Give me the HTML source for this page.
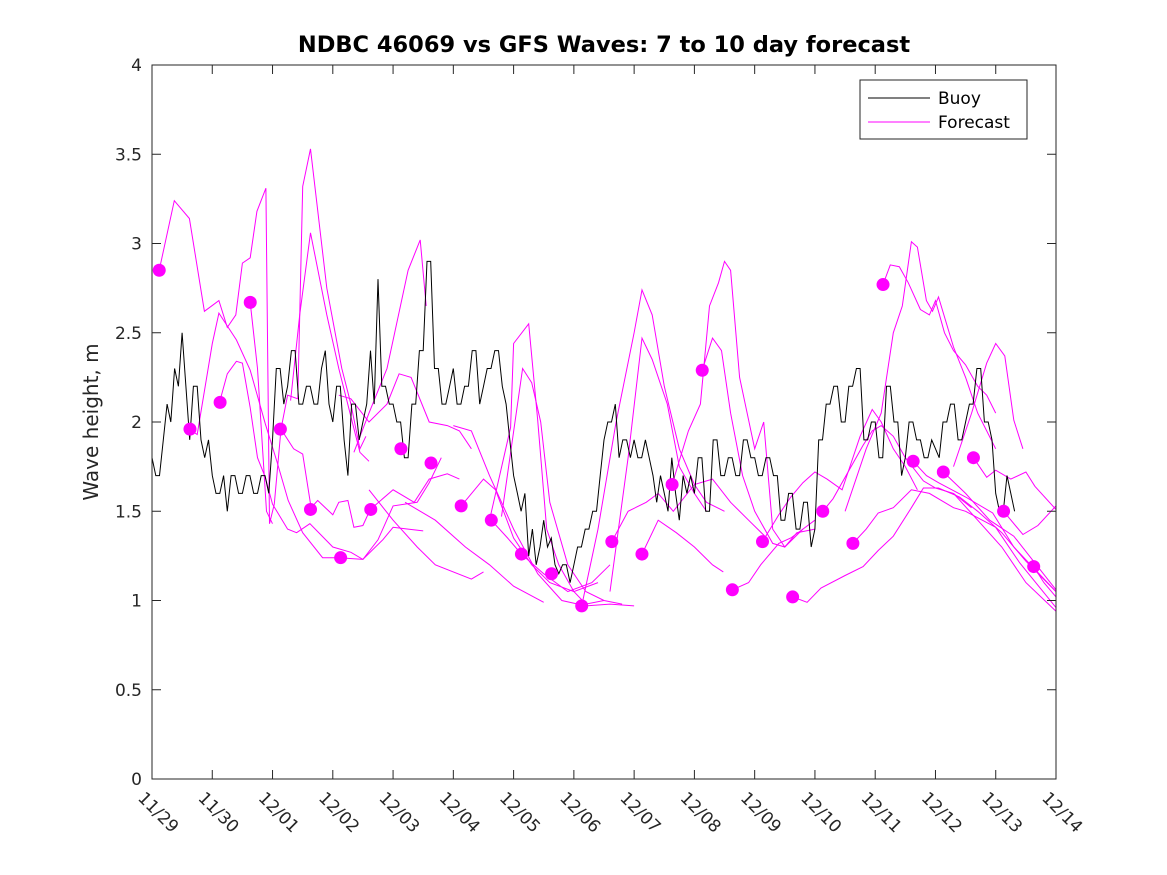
<!DOCTYPE html>
<html><head><meta charset="utf-8"><style>
html,body{margin:0;padding:0;background:#fff;}
svg{display:block;font-family:"DejaVu Sans","Liberation Sans",sans-serif;}
</style></head><body>
<svg id="chart" width="1167" height="875" viewBox="0 0 1167 875" xmlns="http://www.w3.org/2000/svg">
<rect x="0" y="0" width="1167" height="875" fill="#fff"/>
<text x="604" y="52" text-anchor="middle" font-size="22.5" font-weight="bold" fill="#000">NDBC 46069 vs GFS Waves: 7 to 10 day forecast</text>
<text transform="translate(98,422) rotate(-90)" text-anchor="middle" font-size="20" fill="#262626">Wave height, m</text>
<g id="plot"></g>
<g id="axes"></g>
<g>
<rect x="860" y="80" width="167" height="59" fill="#fff" stroke="#262626" stroke-width="1"/>
<line x1="868" y1="98" x2="930" y2="98" stroke="#000" stroke-width="1"/>
<text x="938" y="104" font-size="17" fill="#000">Buoy</text>
<line x1="868" y1="122" x2="930" y2="122" stroke="#ff00ff" stroke-width="1"/>
<text x="938" y="128" font-size="17" fill="#000">Forecast</text>
</g>
</svg>
<script>
const xTickLabels = ["11/29","11/30","12/01","12/02","12/03","12/04","12/05","12/06","12/07","12/08","12/09","12/10","12/11","12/12","12/13","12/14"];
const yTicks = [0,0.5,1,1.5,2,2.5,3,3.5,4];
const yTickLabels = ["0","0.5","1","1.5","2","2.5","3","3.5","4"];
const buoyStep = 0.0625;
const buoyValues = [
1.8,1.7,1.7,1.9,2.1,2.0,2.3,2.2,2.5,2.2,1.9,2.2,2.2,1.9,1.8,1.9,
1.7,1.6,1.6,1.7,1.5,1.7,1.7,1.6,1.6,1.7,1.7,1.6,1.6,1.7,1.7,1.6,
1.9,2.3,2.3,2.1,2.2,2.4,2.4,2.1,2.1,2.2,2.2,2.1,2.1,2.3,2.4,2.1,
2.0,2.2,2.2,1.9,1.7,2.1,2.1,1.9,2.0,2.1,2.4,2.1,2.8,2.2,2.2,2.1,
2.1,2.0,2.0,1.8,1.8,2.1,2.1,2.4,2.4,2.9,2.9,2.3,2.3,2.1,2.1,2.2,
2.3,2.1,2.1,2.2,2.2,2.4,2.4,2.1,2.2,2.3,2.3,2.4,2.4,2.2,2.1,1.9,
1.7,1.6,1.5,1.6,1.25,1.4,1.2,1.3,1.45,1.3,1.35,1.2,1.15,1.2,1.2,1.1,
1.2,1.3,1.3,1.4,1.4,1.5,1.5,1.7,1.9,2.0,2.0,2.1,1.8,1.9,1.9,1.8,
1.9,1.8,1.8,1.9,1.8,1.7,1.55,1.7,1.6,1.5,1.8,1.6,1.45,1.7,1.6,1.7,
1.6,1.8,1.8,1.5,1.5,1.9,1.9,1.7,1.7,1.8,1.8,1.7,1.7,1.9,1.9,1.8,
1.8,1.7,1.7,1.8,1.8,1.7,1.7,1.45,1.45,1.6,1.6,1.4,1.4,1.55,1.55,1.3,
1.4,1.9,1.9,2.1,2.1,2.2,2.2,2.0,2.0,2.2,2.2,2.3,2.3,1.9,1.9,2.0,
2.0,1.8,1.8,2.2,2.2,2.0,2.0,1.7,1.8,2.0,2.0,1.9,1.9,1.8,1.8,1.9,
1.85,1.8,2.0,2.0,2.1,2.1,1.9,1.9,2.0,2.1,2.1,2.3,2.3,2.0,2.0,1.9,
1.6,1.5,1.5,1.7,1.6,1.5];
const dotDays = [0.12,0.63,1.13,1.63,2.13,2.63,3.13,3.63,4.13,4.63,5.13,5.63,6.13,6.63,7.13,7.63,8.13,8.63,9.13,9.63,10.13,10.63,11.13,11.63,12.13,12.63,13.13,13.63,14.13,14.63];
const dotValues = [2.85,1.96,2.11,2.67,1.96,1.51,1.24,1.51,1.85,1.77,1.53,1.45,1.26,1.15,0.97,1.33,1.26,1.65,2.29,1.06,1.33,1.02,1.50,1.32,2.77,1.78,1.72,1.80,1.50,1.19];
const forecasts = [
[[0.12,2.85],[0.37,3.24],[0.62,3.14],[0.87,2.62],[1.11,2.68],[1.25,2.53],[1.39,2.6],[1.5,2.89],[1.63,2.92],[1.74,3.18],[1.89,3.31],[1.95,1.43],[2.03,1.54],[2.14,1.96],[2.35,1.85],[2.5,1.82],[2.64,1.52],[2.75,1.56],[3.0,1.48],[3.1,1.55],[3.25,1.56],[3.35,1.41],[3.5,1.42],[3.62,1.51],[4.0,1.62],[4.35,1.55],[4.6,1.68],[4.9,1.71],[5.1,1.68]],
[[0.62,1.96],[0.75,1.93],[1.0,2.44],[1.11,2.61],[1.4,2.46],[1.63,2.29],[1.88,1.99],[2.08,1.77],[2.26,1.56],[2.5,1.38],[2.83,1.24],[3.1,1.24],[3.5,1.23],[3.83,1.34],[4.0,1.41],[4.25,1.40],[4.5,1.39]],
[[1.12,2.11],[1.25,2.27],[1.4,2.34],[1.5,2.33],[1.63,2.08],[1.75,1.8],[1.88,1.69],[2.0,1.54],[2.25,1.40],[2.4,1.38],[2.62,1.43],[3.0,1.30],[3.3,1.27],[3.5,1.23],[3.75,1.34],[4.0,1.53],[4.4,1.55],[4.6,1.66],[4.8,1.80]],
[[1.63,2.67],[1.75,2.3],[1.9,1.5],[2.0,1.43]],
[[2.14,1.96],[2.25,2.15],[2.42,2.13],[2.5,3.32],[2.63,3.53],[2.9,2.75],[3.15,2.3],[3.3,2.1],[3.45,1.85],[3.55,1.92]],
[[2.3,2.12],[2.45,2.6],[2.63,3.06],[2.9,2.6],[3.1,2.3],[3.3,2.03],[3.45,1.83],[3.6,1.78]],
[[3.1,2.15],[3.3,2.13],[3.6,2.0],[3.9,2.1],[4.1,2.27],[4.3,2.25],[4.6,2.0],[4.9,1.98],[5.1,1.95],[5.3,1.85]],
[[3.35,1.83],[3.6,2.05],[3.9,2.3],[4.25,2.85],[4.45,3.02],[4.55,2.65]],
[[5.0,1.98],[5.3,1.95],[5.6,1.7],[6.0,1.4],[6.4,1.15],[6.8,1.0],[7.2,0.97],[7.6,0.98],[8.0,0.97]],
[[5.6,1.45],[5.95,1.97],[6.0,2.44],[6.25,2.55],[6.4,2.01],[6.55,1.4],[6.75,1.2],[7.0,1.05],[7.2,0.98],[7.5,1.0]],
[[5.8,1.47],[6.15,2.30],[6.3,2.22],[6.45,2.0],[6.6,1.55],[6.9,1.2],[7.2,1.05],[7.5,1.0],[7.8,0.98]],
[[5.13,1.53],[5.5,1.68],[5.7,1.62],[6.0,1.35],[6.3,1.2],[6.6,1.1],[7.0,1.05],[7.4,1.1]],
[[5.63,1.45],[5.9,1.35],[6.13,1.26],[6.5,1.15],[6.9,1.05],[7.3,1.1],[7.6,1.2]],
[[3.6,1.62],[4.0,1.45],[4.4,1.3],[4.7,1.2],[5.3,1.12],[5.5,1.16]],
[[4.2,1.55],[4.7,1.45],[5.2,1.3],[5.6,1.2],[6.0,1.08],[6.5,0.99]],
[[7.13,0.97],[7.4,1.4],[7.7,2.0],[8.0,2.5],[8.13,2.74],[8.3,2.6],[8.5,2.2],[8.75,1.85],[9.0,1.65],[9.2,1.55],[9.5,1.5]],
[[7.6,1.05],[7.9,1.8],[8.13,2.47],[8.3,2.35],[8.55,2.1],[8.75,1.75],[9.0,1.6],[9.2,1.5]],
[[8.63,1.65],[8.9,1.95],[9.1,2.1],[9.25,2.65],[9.4,2.78],[9.5,2.9],[9.6,2.85],[9.75,2.25],[10.0,1.85],[10.15,2.0],[10.3,1.4],[10.5,1.3],[10.7,1.38],[11.0,1.4]],
[[9.13,2.29],[9.3,2.47],[9.45,2.4],[9.6,2.05],[9.8,1.7],[10.0,1.5],[10.3,1.32],[10.5,1.3],[10.8,1.4],[11.0,1.45]],
[[7.63,1.33],[7.9,1.5],[8.2,1.55],[8.4,1.6],[8.65,1.5],[9.0,1.65],[9.3,1.68],[9.6,1.55],[9.9,1.45],[10.2,1.35]],
[[8.13,1.26],[8.4,1.45],[8.7,1.38],[9.0,1.3],[9.3,1.2],[9.48,1.16]],
[[9.63,1.06],[9.9,1.1],[10.1,1.2],[10.4,1.32],[10.6,1.35],[10.8,1.4]],
[[10.13,1.33],[10.4,1.48],[10.6,1.58],[10.8,1.66],[11.0,1.72],[11.2,1.68],[11.45,1.62],[11.55,1.72],[11.75,1.92],[11.95,2.07],[12.1,2.0],[12.3,1.85],[12.5,1.75],[12.7,1.62]],
[[10.63,1.02],[10.87,0.99],[11.1,1.07],[11.5,1.14],[11.8,1.19],[12.05,1.28],[12.3,1.36],[12.6,1.52],[12.8,1.63],[13.05,1.63],[13.4,1.58],[13.7,1.5],[14.1,1.38],[14.5,1.22],[15.0,1.05]],
[[11.13,1.5],[11.3,1.57],[11.6,1.75],[11.8,1.87],[11.95,1.95],[12.1,1.98],[12.3,1.92],[12.5,1.8],[12.8,1.67],[13.0,1.63],[13.3,1.6],[13.6,1.52]],
[[11.63,1.32],[11.85,1.40],[12.05,1.49],[12.3,1.52],[12.6,1.62],[12.9,1.6],[13.3,1.52],[13.5,1.5],[14.0,1.41],[14.4,1.21],[15.0,0.96]],
[[12.13,2.77],[12.25,2.88],[12.4,2.87],[12.55,2.78],[12.75,2.63],[12.9,2.6],[13.0,2.68],[13.15,2.5],[13.3,2.4],[13.5,2.32],[13.7,2.2],[13.85,2.15],[14.0,2.05]],
[[11.5,1.5],[11.85,1.85],[12.1,2.05],[12.3,2.5],[12.45,2.65],[12.6,3.01],[12.7,2.98],[12.85,2.68],[12.95,2.62],[13.05,2.7],[13.3,2.42],[13.5,2.25],[13.7,2.05],[13.85,1.95],[14.0,1.85]],
[[13.3,1.75],[13.6,2.05],[13.85,2.33],[14.0,2.44],[14.15,2.37],[14.3,2.01],[14.45,1.85]],
[[12.63,1.78],[12.85,1.7],[13.05,1.66],[13.5,1.58],[13.95,1.49],[14.3,1.3],[15.0,1.05]],
[[13.13,1.72],[13.5,1.6],[13.9,1.45],[14.3,1.36],[15.0,1.06]],
[[13.63,1.80],[13.85,1.69],[14.0,1.73],[14.25,1.68],[14.5,1.72],[14.65,1.64],[15.0,1.51]],
[[14.13,1.5],[14.45,1.37],[14.7,1.42],[15.0,1.53]],
[[14.63,1.19],[14.8,1.1],[15.0,1.02]],
[[13.3,1.6],[13.7,1.45],[14.1,1.3],[14.5,1.1],[15.0,0.94]]
];

const X0 = 152, X1 = 1056, Y0 = 779, Y1 = 65, DAYS = 15, YMAX = 4;
function xs(d){ return X0 + (X1 - X0) * d / DAYS; }
function ys(v){ return Y0 - (Y0 - Y1) * v / YMAX; }
const NS = "http://www.w3.org/2000/svg";
const plot = document.getElementById('plot');
const axes = document.getElementById('axes');
function mk(tag, attrs){ const e = document.createElementNS(NS, tag); for (const k in attrs) e.setAttribute(k, attrs[k]); return e; }

forecasts.forEach(function(f, i){
  const p = mk('polyline', {points: f.map(function(q){ return xs(q[0]).toFixed(1) + ',' + ys(q[1]).toFixed(1); }).join(' '), fill: 'none', stroke: '#ff00ff', 'stroke-width': 1});
  
  
  plot.appendChild(p);
});

const bpts = buoyValues.map(function(v, i){ return xs(i * buoyStep).toFixed(1) + ',' + ys(v).toFixed(1); }).join(' ');
const bl = mk('polyline', {points: bpts, fill: 'none', stroke: '#000', 'stroke-width': 1});


plot.appendChild(bl);

dotDays.forEach(function(d, i){
  const c = mk('circle', {cx: xs(d), cy: ys(dotValues[i]), r: 6.5, fill: '#ff00ff'});
  
  
  plot.appendChild(c);
});

const box = mk('rect', {x: X0, y: Y1, width: X1 - X0, height: Y0 - Y1, fill: 'none', stroke: '#262626', 'stroke-width': 1});


axes.appendChild(box);

yTicks.forEach(function(v, i){
  const y = ys(v);
  const t1 = mk('line', {x1: X0, y1: y, x2: X0 + 9, y2: y, stroke: '#262626'});
  
  
  axes.appendChild(t1);
  const t2 = mk('line', {x1: X1, y1: y, x2: X1 - 9, y2: y, stroke: '#262626'});
  
  
  axes.appendChild(t2);
  const tx = mk('text', {x: X0 - 10, y: y + 6, 'text-anchor': 'end', 'font-size': 17, fill: '#262626'});
  tx.textContent = yTickLabels[i];
  
  
  axes.appendChild(tx);
});

xTickLabels.forEach(function(lab, i){
  const x = xs(i);
  const t1 = mk('line', {x1: x, y1: Y0, x2: x, y2: Y0 - 9, stroke: '#262626'});
  
  
  axes.appendChild(t1);
  const t2 = mk('line', {x1: x, y1: Y1, x2: x, y2: Y1 + 9, stroke: '#262626'});
  
  
  axes.appendChild(t2);
  const tx = mk('text', {transform: 'translate(' + (x - 15) + ',799) rotate(45)', 'font-size': 17, fill: '#262626'});
  tx.textContent = lab;
  
  
  axes.appendChild(tx);
});
</script>
</body></html>
